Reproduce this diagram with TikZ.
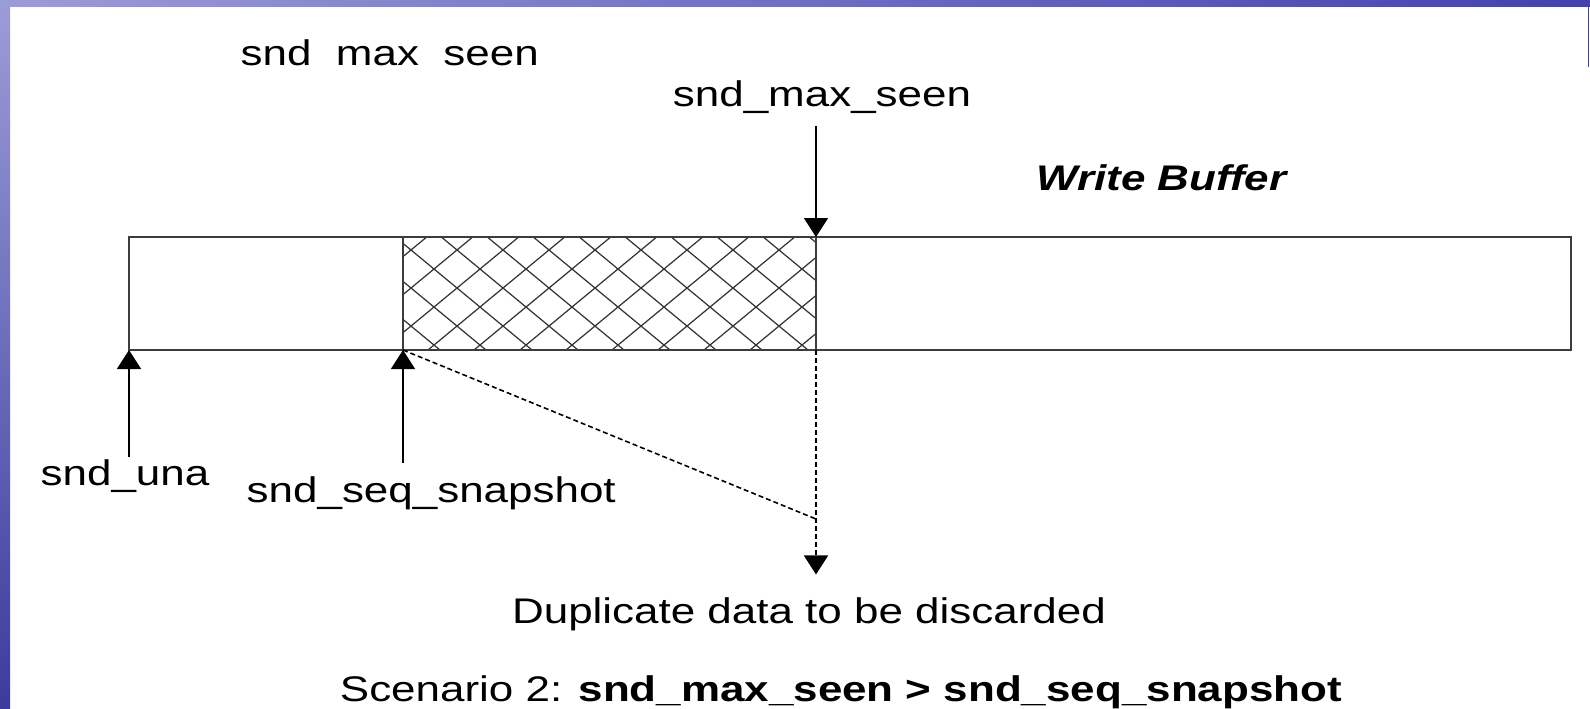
\documentclass[tikz,border=0pt]{standalone}
\usepackage{fontspec}
\setmainfont{Liberation Sans}
\usetikzlibrary{arrows.meta}

\definecolor{slideblue}{HTML}{4242AE}
\definecolor{slidelight}{HTML}{9C9CD8}
\definecolor{boxline}{HTML}{3C3C3C}

% labels are set a bit flatter than the font
\newcommand{\lowtext}[1]{\scalebox{1}[0.81]{#1}}

\tikzset{
  lbl/.style={inner sep=0pt, anchor=base, font=\fontsize{12.5}{14}\selectfont},
  bufline/.style={draw=boxline, line width=0.55pt},
  hatchline/.style={draw=black!80, line width=0.35pt},
  ptr/.style={->, line width=0.45pt},
  dashptr/.style={line width=0.45pt, dash pattern=on 0.05cm off 0.03cm}
}

\begin{document}
\begin{tikzpicture}[x=0.01cm, y=-0.01cm, >={Triangle[width=0.24cm,length=0.19cm]}]
\useasboundingbox (0,0) rectangle (1590,708);

% slide frame
\shade[top color=slidelight, bottom color=slideblue!90!black] (0,0) rectangle (10,708);
\shade[left color=slidelight, right color=slideblue] (0,0) rectangle (1590,6);
\draw[slideblue, line width=0.4pt] (1588.5,6) -- (1588.5,67);

% write buffer
\coordinate (una) at (129,350);
\coordinate (snap) at (403,350);
\coordinate (maxtop) at (816,237);
\coordinate (maxbot) at (816,350);
\coordinate (meet) at (816,519);

\begin{scope}
  \clip (snap) rectangle (maxtop);
  \foreach \k in {-4,...,11} {
    \draw[hatchline] (472.7+46*\k,237) -- (336+46*\k,350);
    \draw[hatchline] (395.3+46*\k,237) -- (532+46*\k,350);
  }
\end{scope}
\draw[bufline] (129,237) rectangle (1571,350);
\draw[bufline] (snap) -- (snap |- maxtop);
\draw[bufline] (maxtop) -- (maxbot);

% labels
\node[lbl, anchor=base west] (hdr) at (240,65) {\lowtext{snd~~max~~seen}};
\node[lbl] (smax) at (822,106) {\lowtext{snd\_max\_seen}};
\node[lbl, anchor=base east] (wbuf) at (1287,190) {\lowtext{\bfseries\itshape Write Buffer}};
\node[lbl] (unal) at (125,485) {\lowtext{snd\_una}};
\node[lbl, anchor=base west] (snapl) at (246,502) {\lowtext{snd\_seq\_snapshot}};
\node[lbl] (dup) at (809,623) {\lowtext{Duplicate data to be discarded}};
\node[lbl] (cap) at (841,701) {\lowtext{Scenario 2: \textbf{snd\_max\_seen > snd\_seq\_snapshot}}};

% pointers
\draw[ptr, shorten <=0.12cm] (smax.south -| maxtop) -- (maxtop);
\draw[ptr, shorten <=0.02cm] (unal.north -| una) -- (una);
\draw[ptr, shorten <=0.13cm] (snapl.north -| snap) -- (snap);
\draw[dashptr] (snap) -- (meet);
\draw[dashptr, ->, shorten >=0.22cm] (maxbot) -- (dup.north -| maxbot);
\end{tikzpicture}
\end{document}
